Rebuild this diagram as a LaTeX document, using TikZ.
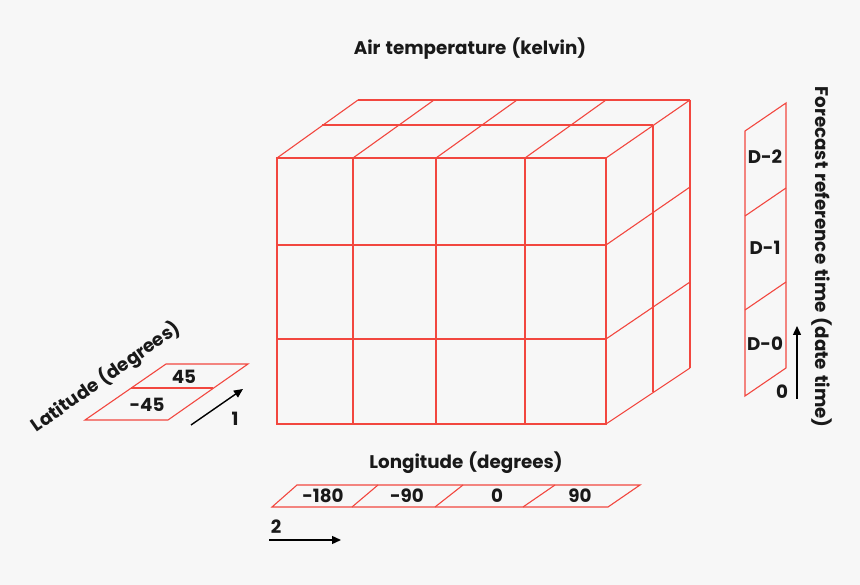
\documentclass[tikz,border=0pt]{standalone}
\usepackage{fontspec}
\setmainfont{Poppins}[WordSpace=1.3]
\usetikzlibrary{arrows.meta}
\definecolor{gridred}{HTML}{F2473F}
\definecolor{bg}{HTML}{F7F7F7}
\tikzset{
  grid/.style={draw=gridred, line width=1.1pt, line join=miter},
  lbl/.style={font=\fontsize{18.3}{21}\selectfont\bfseries, text=black!90, inner sep=0pt},
  axarrow/.style={draw=black, line width=1.4pt, -{Triangle[length=9pt,width=8pt]}}
}
\begin{document}
\begin{tikzpicture}[x=1pt,y=-1pt]
\fill[bg] (0,0) rectangle (860,585);
\useasboundingbox (0,0) rectangle (860,585);
% cube front face
\draw[grid] (277,158) rectangle (606,424);
\foreach \x in {353,436,525} \draw[grid] (\x,158) -- (\x,424);
\foreach \y in {245,339} \draw[grid] (277,\y) -- (606,\y);
% top face
\draw[grid] (277,158) -- (358,100);
\draw[grid] (353,158) -- (434,100);
\draw[grid] (436,158) -- (517,100);
\draw[grid] (525,158) -- (606,100);
\draw[grid] (606,158) -- (690,100);
\draw[grid] (322,125) -- (653,125);
\draw[grid] (358,100) -- (690,100);
% right face
\draw[grid] (690,100) -- (690,368);
\draw[grid] (653,125) -- (653,392);
\draw[grid] (606,245) -- (690,187);
\draw[grid] (606,339) -- (690,282);
\draw[grid] (606,424) -- (690,368);
% title
\node[lbl] (title) at (470,49) {Air temperature (kelvin)};
% latitude panel
\draw[grid] (85,420) -- (168,420) -- (248,364) -- (166,364) -- cycle;
\draw[grid] (131,388) -- (213,388);
\node[lbl] (lat45) at (184,377) {45};
\node[lbl] (latm45) at (147,405) {-45};
\node[lbl, rotate=35] (lattitle) at (106,377) {Latitude (degrees)};
\coordinate (a1s) at (191,425);
\coordinate (a1e) at (243,389);
\draw[axarrow] (a1s) -- (a1e);
\node[lbl] (one) at (235,419) {1};
% longitude panel
\draw[grid] (272,507) -- (608,507) -- (640,485) -- (297,485) -- cycle;
\draw[grid] (352,507) -- (378,485);
\draw[grid] (435,507) -- (463,485);
\draw[grid] (523,507) -- (555,485);
\node[lbl] (lm180) at (323,496) {-180};
\node[lbl] (lm90) at (407,496) {-90};
\node[lbl] (l0) at (497,496) {0};
\node[lbl] (l90) at (580,496) {90};
\node[lbl] (lontitle) at (466,463) {Longitude (degrees)};
\node[lbl] (two) at (276,527) {2};
\coordinate (a2s) at (269,540);
\coordinate (a2e) at (341,540);
\draw[axarrow] (a2s) -- (a2e);
% forecast panel
\draw[grid] (745,131) -- (786,103) -- (786,368) -- (745,396) -- cycle;
\draw[grid] (745,216) -- (786,188);
\draw[grid] (745,310) -- (786,282);
\node[lbl] (d2) at (765,157) {D-2};
\node[lbl] (d1) at (765,248) {D-1};
\node[lbl] (d0) at (765,344) {D-0};
\node[lbl] (zero) at (782,392) {0};
\coordinate (a3s) at (797,399);
\coordinate (a3e) at (797,326);
\draw[axarrow] (a3s) -- (a3e);
\node[lbl, rotate=-90] (fctitle) at (822,257) {Forecast reference time (date time)};
\end{tikzpicture}
\end{document}
